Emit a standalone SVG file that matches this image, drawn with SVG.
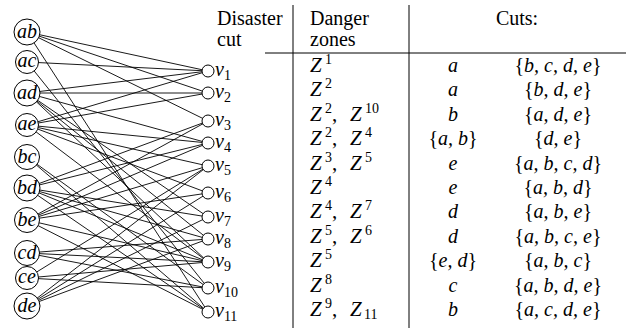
<svg xmlns="http://www.w3.org/2000/svg" width="632" height="331" viewBox="0 0 632 331">
<rect x="0" y="0" width="632" height="331" fill="#fff"/>
<g id="connectors" stroke="#000" stroke-width="0.9">
<line x1="27" y1="32" x2="208" y2="71"/>
<line x1="27" y1="62" x2="208" y2="71"/>
<line x1="27" y1="93" x2="208" y2="71"/>
<line x1="27" y1="125" x2="208" y2="71"/>
<line x1="27" y1="32" x2="208" y2="93"/>
<line x1="27" y1="93" x2="208" y2="93"/>
<line x1="27" y1="125" x2="208" y2="93"/>
<line x1="27" y1="32" x2="208" y2="121"/>
<line x1="27" y1="188" x2="208" y2="121"/>
<line x1="27" y1="220" x2="208" y2="121"/>
<line x1="27" y1="93" x2="208" y2="143"/>
<line x1="27" y1="125" x2="208" y2="143"/>
<line x1="27" y1="188" x2="208" y2="143"/>
<line x1="27" y1="220" x2="208" y2="143"/>
<line x1="27" y1="125" x2="208" y2="166"/>
<line x1="27" y1="220" x2="208" y2="166"/>
<line x1="27" y1="278" x2="208" y2="166"/>
<line x1="27" y1="306" x2="208" y2="166"/>
<line x1="27" y1="125" x2="208" y2="193"/>
<line x1="27" y1="220" x2="208" y2="193"/>
<line x1="27" y1="306" x2="208" y2="193"/>
<line x1="27" y1="93" x2="208" y2="217"/>
<line x1="27" y1="188" x2="208" y2="217"/>
<line x1="27" y1="306" x2="208" y2="217"/>
<line x1="27" y1="93" x2="208" y2="239"/>
<line x1="27" y1="188" x2="208" y2="239"/>
<line x1="27" y1="253" x2="208" y2="239"/>
<line x1="27" y1="306" x2="208" y2="239"/>
<line x1="27" y1="93" x2="208" y2="262"/>
<line x1="27" y1="125" x2="208" y2="262"/>
<line x1="27" y1="188" x2="208" y2="262"/>
<line x1="27" y1="220" x2="208" y2="262"/>
<line x1="27" y1="253" x2="208" y2="262"/>
<line x1="27" y1="278" x2="208" y2="262"/>
<line x1="27" y1="62" x2="208" y2="288"/>
<line x1="27" y1="157" x2="208" y2="288"/>
<line x1="27" y1="253" x2="208" y2="288"/>
<line x1="27" y1="278" x2="208" y2="288"/>
<line x1="27" y1="32" x2="208" y2="312"/>
<line x1="27" y1="157" x2="208" y2="312"/>
<line x1="27" y1="188" x2="208" y2="312"/>
<line x1="27" y1="220" x2="208" y2="312"/>
</g>
<g id="ab"><circle cx="27" cy="32" r="13" fill="#fff" stroke="#000"/><text font-family="Liberation Serif" font-size="20" font-style="italic" text-anchor="middle" x="27" y="38">ab</text></g>
<g id="ac"><circle cx="27" cy="62" r="11.5" fill="#fff" stroke="#000"/><text font-family="Liberation Serif" font-size="20" font-style="italic" text-anchor="middle" x="27" y="67">ac</text></g>
<g id="ad"><circle cx="27" cy="93" r="13" fill="#fff" stroke="#000"/><text font-family="Liberation Serif" font-size="20" font-style="italic" text-anchor="middle" x="27" y="99">ad</text></g>
<g id="ae"><circle cx="27" cy="125" r="11.5" fill="#fff" stroke="#000"/><text font-family="Liberation Serif" font-size="20" font-style="italic" text-anchor="middle" x="27" y="130">ae</text></g>
<g id="bc"><circle cx="27" cy="157" r="12.5" fill="#fff" stroke="#000"/><text font-family="Liberation Serif" font-size="20" font-style="italic" text-anchor="middle" x="27" y="163">bc</text></g>
<g id="bd"><circle cx="27" cy="188" r="13" fill="#fff" stroke="#000"/><text font-family="Liberation Serif" font-size="20" font-style="italic" text-anchor="middle" x="27" y="194">bd</text></g>
<g id="be"><circle cx="27" cy="220" r="12.5" fill="#fff" stroke="#000"/><text font-family="Liberation Serif" font-size="20" font-style="italic" text-anchor="middle" x="27" y="226">be</text></g>
<g id="cd"><circle cx="27" cy="253" r="12.5" fill="#fff" stroke="#000"/><text font-family="Liberation Serif" font-size="20" font-style="italic" text-anchor="middle" x="27" y="259">cd</text></g>
<g id="ce"><circle cx="27" cy="278" r="11.5" fill="#fff" stroke="#000"/><text font-family="Liberation Serif" font-size="20" font-style="italic" text-anchor="middle" x="27" y="283">ce</text></g>
<g id="de"><circle cx="27" cy="306" r="13" fill="#fff" stroke="#000"/><text font-family="Liberation Serif" font-size="20" font-style="italic" text-anchor="middle" x="27" y="312">de</text></g>
<g id="v1"><circle cx="208" cy="71" r="6" fill="#fff" stroke="#000"/><text font-family="Liberation Serif" font-size="20" font-style="italic" x="215" y="76">v<tspan font-size="14" font-style="normal" dy="4">1</tspan></text></g>
<g id="v2"><circle cx="208" cy="93" r="6" fill="#fff" stroke="#000"/><text font-family="Liberation Serif" font-size="20" font-style="italic" x="215" y="98">v<tspan font-size="14" font-style="normal" dy="4">2</tspan></text></g>
<g id="v3"><circle cx="208" cy="121" r="6" fill="#fff" stroke="#000"/><text font-family="Liberation Serif" font-size="20" font-style="italic" x="215" y="126">v<tspan font-size="14" font-style="normal" dy="4">3</tspan></text></g>
<g id="v4"><circle cx="208" cy="143" r="6" fill="#fff" stroke="#000"/><text font-family="Liberation Serif" font-size="20" font-style="italic" x="215" y="148">v<tspan font-size="14" font-style="normal" dy="4">4</tspan></text></g>
<g id="v5"><circle cx="208" cy="166" r="6" fill="#fff" stroke="#000"/><text font-family="Liberation Serif" font-size="20" font-style="italic" x="215" y="171">v<tspan font-size="14" font-style="normal" dy="4">5</tspan></text></g>
<g id="v6"><circle cx="208" cy="193" r="6" fill="#fff" stroke="#000"/><text font-family="Liberation Serif" font-size="20" font-style="italic" x="215" y="198">v<tspan font-size="14" font-style="normal" dy="4">6</tspan></text></g>
<g id="v7"><circle cx="208" cy="217" r="6" fill="#fff" stroke="#000"/><text font-family="Liberation Serif" font-size="20" font-style="italic" x="215" y="222">v<tspan font-size="14" font-style="normal" dy="4">7</tspan></text></g>
<g id="v8"><circle cx="208" cy="239" r="6" fill="#fff" stroke="#000"/><text font-family="Liberation Serif" font-size="20" font-style="italic" x="215" y="244">v<tspan font-size="14" font-style="normal" dy="4">8</tspan></text></g>
<g id="v9"><circle cx="208" cy="262" r="6" fill="#fff" stroke="#000"/><text font-family="Liberation Serif" font-size="20" font-style="italic" x="215" y="267">v<tspan font-size="14" font-style="normal" dy="4">9</tspan></text></g>
<g id="v10"><circle cx="208" cy="288" r="6" fill="#fff" stroke="#000"/><text font-family="Liberation Serif" font-size="20" font-style="italic" x="215" y="293">v<tspan font-size="14" font-style="normal" dy="4">10</tspan></text></g>
<g id="v11"><circle cx="208" cy="312" r="6" fill="#fff" stroke="#000"/><text font-family="Liberation Serif" font-size="20" font-style="italic" x="215" y="317">v<tspan font-size="14" font-style="normal" dy="4">11</tspan></text></g>
<g id="table">
<g stroke="#000" stroke-width="1">
<line x1="293" y1="5" x2="293" y2="328"/>
<line x1="409" y1="5" x2="409" y2="328"/>
<line x1="265" y1="53" x2="626" y2="53"/>
</g>
<text font-family="Liberation Serif" font-size="20" x="217" y="25">Disaster</text>
<text font-family="Liberation Serif" font-size="20" x="217" y="46">cut</text>
<text font-family="Liberation Serif" font-size="20" x="310" y="25">Danger</text>
<text font-family="Liberation Serif" font-size="20" x="310" y="46">zones</text>
<text font-family="Liberation Serif" font-size="20" text-anchor="middle" x="517" y="25">Cuts:</text>
<text font-family="Liberation Serif" font-size="21" font-style="italic" x="310" y="72">Z<tspan font-size="14" font-style="normal" x="325" dy="-8">1</tspan></text>
<text font-family="Liberation Serif" font-size="21" font-style="italic" x="310" y="96">Z<tspan font-size="14" font-style="normal" x="325" dy="-8">2</tspan></text>
<text font-family="Liberation Serif" font-size="21" font-style="italic" x="310" y="121">Z<tspan font-size="14" font-style="normal" x="325" dy="-8">2</tspan><tspan font-style="normal" x="332" dy="8">,</tspan><tspan x="350">Z</tspan><tspan font-size="14" font-style="normal" x="365" dy="-8">10</tspan></text>
<text font-family="Liberation Serif" font-size="21" font-style="italic" x="310" y="145">Z<tspan font-size="14" font-style="normal" x="325" dy="-8">2</tspan><tspan font-style="normal" x="332" dy="8">,</tspan><tspan x="350">Z</tspan><tspan font-size="14" font-style="normal" x="365" dy="-8">4</tspan></text>
<text font-family="Liberation Serif" font-size="21" font-style="italic" x="310" y="170">Z<tspan font-size="14" font-style="normal" x="325" dy="-8">3</tspan><tspan font-style="normal" x="332" dy="8">,</tspan><tspan x="350">Z</tspan><tspan font-size="14" font-style="normal" x="365" dy="-8">5</tspan></text>
<text font-family="Liberation Serif" font-size="21" font-style="italic" x="310" y="194">Z<tspan font-size="14" font-style="normal" x="325" dy="-8">4</tspan></text>
<text font-family="Liberation Serif" font-size="21" font-style="italic" x="310" y="218">Z<tspan font-size="14" font-style="normal" x="325" dy="-8">4</tspan><tspan font-style="normal" x="332" dy="8">,</tspan><tspan x="350">Z</tspan><tspan font-size="14" font-style="normal" x="365" dy="-8">7</tspan></text>
<text font-family="Liberation Serif" font-size="21" font-style="italic" x="310" y="243">Z<tspan font-size="14" font-style="normal" x="325" dy="-8">5</tspan><tspan font-style="normal" x="332" dy="8">,</tspan><tspan x="350">Z</tspan><tspan font-size="14" font-style="normal" x="365" dy="-8">6</tspan></text>
<text font-family="Liberation Serif" font-size="21" font-style="italic" x="310" y="267">Z<tspan font-size="14" font-style="normal" x="325" dy="-8">5</tspan></text>
<text font-family="Liberation Serif" font-size="21" font-style="italic" x="310" y="292">Z<tspan font-size="14" font-style="normal" x="325" dy="-8">8</tspan></text>
<text font-family="Liberation Serif" font-size="21" font-style="italic" x="310" y="316">Z<tspan font-size="14" font-style="normal" x="325" dy="-8">9</tspan><tspan font-style="normal" x="332" dy="8">,</tspan><tspan x="350">Z</tspan><tspan font-size="14" font-style="normal" x="364" dy="3">11</tspan></text>
<text font-family="Liberation Serif" font-size="20" font-style="italic" text-anchor="middle" x="453" y="72">a</text>
<text font-family="Liberation Serif" font-size="20" font-style="italic" text-anchor="middle" x="453" y="96">a</text>
<text font-family="Liberation Serif" font-size="20" font-style="italic" text-anchor="middle" x="453" y="121">b</text>
<text font-family="Liberation Serif" font-size="20" font-style="italic" text-anchor="middle" x="453" y="145"><tspan font-style="normal">{</tspan>a, b<tspan font-style="normal">}</tspan></text>
<text font-family="Liberation Serif" font-size="20" font-style="italic" text-anchor="middle" x="453" y="170">e</text>
<text font-family="Liberation Serif" font-size="20" font-style="italic" text-anchor="middle" x="453" y="194">e</text>
<text font-family="Liberation Serif" font-size="20" font-style="italic" text-anchor="middle" x="453" y="218">d</text>
<text font-family="Liberation Serif" font-size="20" font-style="italic" text-anchor="middle" x="453" y="243">d</text>
<text font-family="Liberation Serif" font-size="20" font-style="italic" text-anchor="middle" x="453" y="267"><tspan font-style="normal">{</tspan>e, d<tspan font-style="normal">}</tspan></text>
<text font-family="Liberation Serif" font-size="20" font-style="italic" text-anchor="middle" x="453" y="292">c</text>
<text font-family="Liberation Serif" font-size="20" font-style="italic" text-anchor="middle" x="453" y="316">b</text>
<text font-family="Liberation Serif" font-size="20" font-style="italic" text-anchor="middle" x="558" y="72"><tspan font-style="normal">{</tspan>b, c, d, e<tspan font-style="normal">}</tspan></text>
<text font-family="Liberation Serif" font-size="20" font-style="italic" text-anchor="middle" x="558" y="96"><tspan font-style="normal">{</tspan>b, d, e<tspan font-style="normal">}</tspan></text>
<text font-family="Liberation Serif" font-size="20" font-style="italic" text-anchor="middle" x="558" y="121"><tspan font-style="normal">{</tspan>a, d, e<tspan font-style="normal">}</tspan></text>
<text font-family="Liberation Serif" font-size="20" font-style="italic" text-anchor="middle" x="558" y="145"><tspan font-style="normal">{</tspan>d, e<tspan font-style="normal">}</tspan></text>
<text font-family="Liberation Serif" font-size="20" font-style="italic" text-anchor="middle" x="558" y="170"><tspan font-style="normal">{</tspan>a, b, c, d<tspan font-style="normal">}</tspan></text>
<text font-family="Liberation Serif" font-size="20" font-style="italic" text-anchor="middle" x="558" y="194"><tspan font-style="normal">{</tspan>a, b, d<tspan font-style="normal">}</tspan></text>
<text font-family="Liberation Serif" font-size="20" font-style="italic" text-anchor="middle" x="558" y="218"><tspan font-style="normal">{</tspan>a, b, e<tspan font-style="normal">}</tspan></text>
<text font-family="Liberation Serif" font-size="20" font-style="italic" text-anchor="middle" x="558" y="243"><tspan font-style="normal">{</tspan>a, b, c, e<tspan font-style="normal">}</tspan></text>
<text font-family="Liberation Serif" font-size="20" font-style="italic" text-anchor="middle" x="558" y="267"><tspan font-style="normal">{</tspan>a, b, c<tspan font-style="normal">}</tspan></text>
<text font-family="Liberation Serif" font-size="20" font-style="italic" text-anchor="middle" x="558" y="292"><tspan font-style="normal">{</tspan>a, b, d, e<tspan font-style="normal">}</tspan></text>
<text font-family="Liberation Serif" font-size="20" font-style="italic" text-anchor="middle" x="558" y="316"><tspan font-style="normal">{</tspan>a, c, d, e<tspan font-style="normal">}</tspan></text>
</g>
</svg>
